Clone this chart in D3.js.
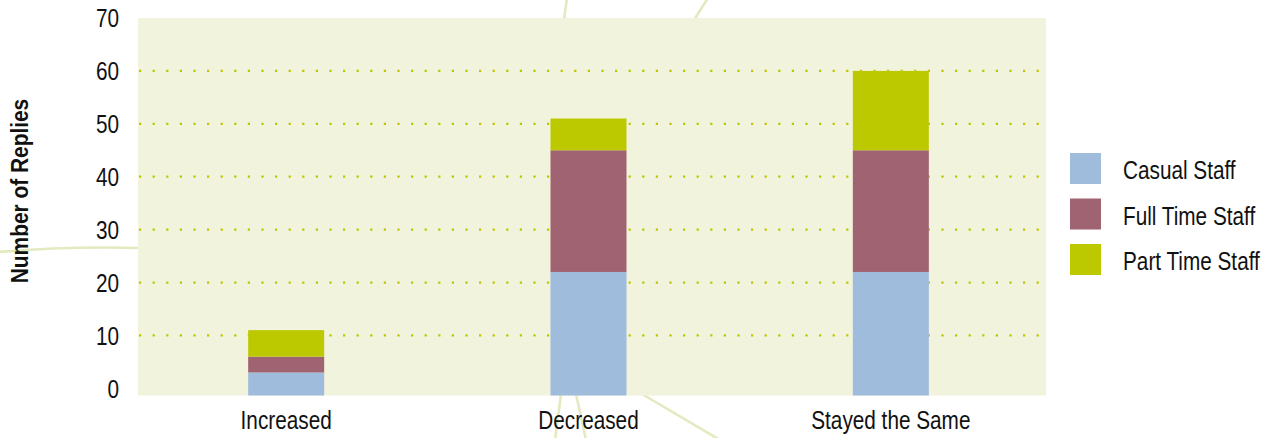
<!DOCTYPE html>
<html>
<head>
<meta charset="utf-8">
<script src="https://cdn.jsdelivr.net/npm/d3@7"></script>
<style>
  html, body { margin: 0; padding: 0; background: #ffffff; }
  svg { display: block; }
  text { font-family: "Liberation Sans", Arial, sans-serif; fill: #111; }
</style>
</head>
<body>
<svg id="chart" width="1281" height="438"></svg>
<script>
// Replies per staffing outcome, split by staff type
const categories = ["Increased", "Decreased", "Stayed the Same"];
const seriesNames = ["Casual Staff", "Full Time Staff", "Part Time Staff"];
const casualStaff = [3, 22, 22];
const fullTimeStaff = [3, 23, 23];
const partTimeStaff = [5, 6, 15];
const yTicks = [0, 10, 20, 30, 40, 50, 60, 70];
const yTitle = "Number of Replies";

const colors = ["#a0bcdc", "#a06372", "#bdc900"];
const narrow = 0.83; // horizontal squeeze for a condensed type look

const rows = categories.map((c, i) => ({
  category: c,
  "Casual Staff": casualStaff[i],
  "Full Time Staff": fullTimeStaff[i],
  "Part Time Staff": partTimeStaff[i]
}));

const svg = d3.select("#chart");

// plot frame
const plot = { left: 138, right: 1046, top: 18, bottom: 395.5 };

// faint decorative branches behind the plot
const deco = svg.append("g")
  .attr("fill", "none")
  .attr("stroke", "#e5e9c0")
  .attr("stroke-width", 2.6)
  .attr("stroke-linecap", "round");
[
  "M567,-2 L564,20",
  "M708,-2 L694,20",
  "M-2,252 Q70,246 140,248",
  "M561,394 L555,440",
  "M576,394 L586,440",
  "M642,394 L720,440"
].forEach(d => deco.append("path").attr("d", d));

svg.append("rect")
  .attr("x", plot.left).attr("y", plot.top)
  .attr("width", plot.right - plot.left)
  .attr("height", plot.bottom - plot.top)
  .attr("fill", "#f1f3dc");

const x = d3.scaleBand()
  .domain(categories)
  .range([135, 1042])
  .padding(0);

const y = d3.scaleLinear()
  .domain([-1.35, 70])
  .range([plot.bottom, plot.top]);

const barWidth = x.bandwidth() * 0.2514;

// dotted gridlines
svg.append("g")
  .selectAll("line")
  .data(yTicks.filter(t => t > 0 && t < 70))
  .join("line")
  .attr("x1", plot.left + 1)
  .attr("x2", plot.right)
  .attr("y1", d => y(d))
  .attr("y2", d => y(d))
  .attr("stroke", "#bcc700")
  .attr("stroke-width", 2.2)
  .attr("stroke-dasharray", "2.2 11.4");

// stacked bars
const stack = d3.stack().keys(seriesNames);
const layers = stack(rows);
const floorY = y(y.domain()[0]);

svg.append("g")
  .selectAll("g")
  .data(layers)
  .join("g")
  .attr("fill", (d, i) => colors[i])
  .selectAll("rect")
  .data(d => d)
  .join("rect")
  .attr("x", d => x(d.data.category) + x.bandwidth() / 2 - barWidth / 2)
  .attr("width", barWidth)
  .attr("y", d => y(d[1]))
  .attr("height", d => (d[0] === 0 ? floorY : y(d[0])) - y(d[1]));

// y axis labels
const yAxis = d3.axisLeft(y).tickValues(yTicks).tickSize(0).tickPadding(0);
const yg = svg.append("g")
  .attr("transform", "translate(119,0)")
  .call(yAxis);
yg.select(".domain").remove();
yg.selectAll("text")
  .attr("font-size", 25)
  .attr("font-family", null)
  .attr("fill", "#111")
  .attr("x", 0)
  .attr("dy", "0.35em")
  .attr("transform", `scale(${narrow},1)`);

// x axis labels
const xAxis = d3.axisBottom(x).tickSize(0).tickPadding(0);
const xg = svg.append("g")
  .attr("transform", "translate(0,411)")
  .call(xAxis);
xg.select(".domain").remove();
xg.selectAll("text")
  .attr("font-size", 25)
  .attr("font-family", null)
  .attr("fill", "#111")
  .attr("dy", "0.72em")
  .attr("transform", `scale(${narrow},1)`);

// y title
svg.append("text")
  .attr("transform", "translate(28,191) rotate(-90) scale(0.87,1)")
  .attr("text-anchor", "middle")
  .attr("font-size", 24)
  .attr("font-weight", "bold")
  .text(yTitle);

// legend
const legend = svg.append("g").attr("transform", "translate(1070,153)");
const items = legend.selectAll("g")
  .data(seriesNames)
  .join("g")
  .attr("transform", (d, i) => `translate(0,${i * 45.5})`);
items.append("rect")
  .attr("width", 31).attr("height", 31)
  .attr("fill", (d, i) => colors[i]);
items.append("text")
  .attr("transform", `translate(53,26) scale(${narrow},1)`)
  .attr("font-size", 25)
  .text(d => d);
</script>
</body>
</html>
